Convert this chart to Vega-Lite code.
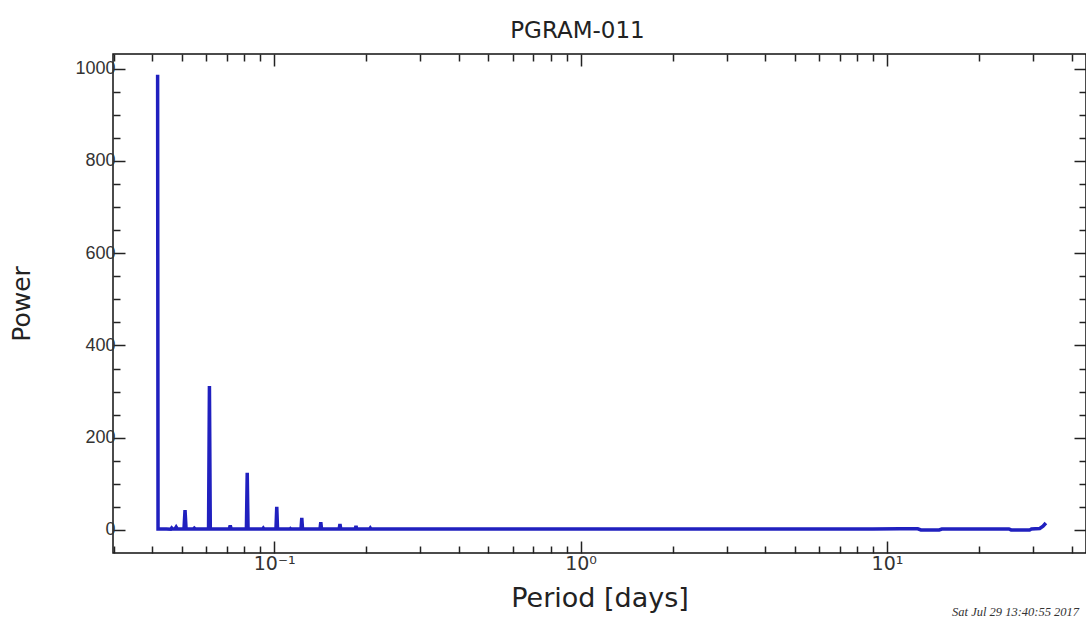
{
  "$schema": "https://vega.github.io/schema/vega-lite/v6.json",
  "autosize": {"type": "none"},
  "padding": {"left": 113, "top": 54, "right": 0, "bottom": 67},
  "width": 973,
  "height": 499,
  "background": "white",
  "title": {"text": "PGRAM-011", "font": "DejaVu Sans", "fontSize": 23, "fontWeight": "normal", "color": "#222", "dx": -22, "offset": 10, "anchor": "middle"},
  "config": {
    "view": {"stroke": "#111", "strokeWidth": 1.5},
    "axis": {"domain": false, "grid": false, "tickColor": "#222", "tickWidth": 1.5}
  },
  "datasets": {
    "pgram": [
      {"period": 0.04167, "power": 987},
      {"period": 0.0418, "power": 2},
      {"period": 0.0445, "power": 2},
      {"period": 0.046, "power": 1.5},
      {"period": 0.0463, "power": 4},
      {"period": 0.0466, "power": 2},
      {"period": 0.0475, "power": 2},
      {"period": 0.0479, "power": 6},
      {"period": 0.0483, "power": 2},
      {"period": 0.0508, "power": 2},
      {"period": 0.0512, "power": 43},
      {"period": 0.0516, "power": 2},
      {"period": 0.0545, "power": 2},
      {"period": 0.0549, "power": 4},
      {"period": 0.0553, "power": 2},
      {"period": 0.0611, "power": 2},
      {"period": 0.0615, "power": 312},
      {"period": 0.0619, "power": 2},
      {"period": 0.0714, "power": 2},
      {"period": 0.0719, "power": 10},
      {"period": 0.0724, "power": 2},
      {"period": 0.0812, "power": 2},
      {"period": 0.0817, "power": 124},
      {"period": 0.0822, "power": 2},
      {"period": 0.0917, "power": 2},
      {"period": 0.0922, "power": 4},
      {"period": 0.0927, "power": 2},
      {"period": 0.1014, "power": 2},
      {"period": 0.102, "power": 50},
      {"period": 0.1026, "power": 2},
      {"period": 0.1125, "power": 2},
      {"period": 0.113, "power": 3},
      {"period": 0.1135, "power": 2},
      {"period": 0.1224, "power": 2},
      {"period": 0.1231, "power": 26},
      {"period": 0.1238, "power": 2},
      {"period": 0.1412, "power": 2},
      {"period": 0.142, "power": 17},
      {"period": 0.1428, "power": 2},
      {"period": 0.163, "power": 2},
      {"period": 0.164, "power": 13},
      {"period": 0.165, "power": 2},
      {"period": 0.184, "power": 2},
      {"period": 0.185, "power": 9},
      {"period": 0.186, "power": 2},
      {"period": 0.205, "power": 2},
      {"period": 0.206, "power": 4},
      {"period": 0.207, "power": 2},
      {"period": 0.3, "power": 2},
      {"period": 0.5, "power": 2},
      {"period": 1, "power": 2},
      {"period": 2, "power": 2},
      {"period": 5, "power": 2},
      {"period": 9, "power": 2},
      {"period": 11, "power": 2.5},
      {"period": 12.6, "power": 2.5},
      {"period": 12.9, "power": 0},
      {"period": 14.8, "power": 0},
      {"period": 15.1, "power": 2},
      {"period": 20, "power": 2},
      {"period": 25, "power": 2},
      {"period": 25.4, "power": 0},
      {"period": 29.2, "power": 0},
      {"period": 29.6, "power": 2},
      {"period": 31.5, "power": 3},
      {"period": 32.3, "power": 8},
      {"period": 33, "power": 15}
    ],
    "stamp": [
      {"period": 16.3, "power": -179, "label": "Sat Jul 29 13:40:55 2017"}
    ]
  },
  "layer": [
    {
      "data": {"name": "pgram"},
      "mark": {"type": "line", "color": "#2020bf", "strokeWidth": 3.5, "clip": true},
      "encoding": {
        "x": {
          "field": "period", "type": "quantitative",
          "scale": {"type": "log", "domain": [0.0298, 44.6], "nice": false},
          "axis": {
            "orient": "bottom",
            "values": [0.03, 0.04, 0.05, 0.06, 0.07, 0.08, 0.09, 0.1, 0.2, 0.3, 0.4, 0.5, 0.6, 0.7, 0.8, 0.9, 1, 2, 3, 4, 5, 6, 7, 8, 9, 10, 20, 30, 40],
            "labelExpr": "datum.value == 0.1 ? '10⁻¹' : datum.value == 1 ? '10⁰' : datum.value == 10 ? '10¹' : ''",
            "tickSize": {"condition": {"test": "datum.value == 0.1 || datum.value == 1 || datum.value == 10", "value": -12}, "value": -7},
            "labelFont": "DejaVu Sans", "labelFontSize": 19, "labelColor": "#333", "labelPadding": 13,
            "labelFlush": false, "labelOverlap": false,
            "title": "Period [days]", "titleFont": "DejaVu Sans", "titleFontSize": 27, "titleFontWeight": "normal", "titleColor": "#222", "titlePadding": 7
          }
        },
        "y": {
          "field": "power", "type": "quantitative",
          "scale": {"domain": [-50, 1032], "nice": false, "zero": false},
          "axis": {
            "orient": "left",
            "values": [0, 50, 100, 150, 200, 250, 300, 350, 400, 450, 500, 550, 600, 650, 700, 750, 800, 850, 900, 950, 1000],
            "labelExpr": "datum.value % 200 == 0 ? datum.value : ''",
            "tickSize": {"condition": {"test": "datum.value % 200 == 0", "value": -12}, "value": -7},
            "labelFont": "Liberation Sans", "labelFontSize": 18, "labelColor": "#333", "labelPadding": 10,
            "labelOverlap": false,
            "title": "Power", "titleFont": "DejaVu Sans", "titleFontSize": 25, "titleFontWeight": "normal", "titleColor": "#222", "titlePadding": 40
          }
        }
      }
    },
    {
      "data": {"name": "stamp"},
      "mark": {"type": "text", "align": "left", "baseline": "middle", "font": "Liberation Serif", "fontStyle": "italic", "fontSize": 12.5, "color": "#333", "clip": false},
      "encoding": {
        "x": {
          "field": "period", "type": "quantitative",
          "axis": {
            "orient": "top",
            "values": [0.03, 0.04, 0.05, 0.06, 0.07, 0.08, 0.09, 0.1, 0.2, 0.3, 0.4, 0.5, 0.6, 0.7, 0.8, 0.9, 1, 2, 3, 4, 5, 6, 7, 8, 9, 10, 20, 30, 40],
            "labels": false,
            "tickSize": {"condition": {"test": "datum.value == 0.1 || datum.value == 1 || datum.value == 10", "value": -12}, "value": -7},
            "title": null
          }
        },
        "y": {
          "field": "power", "type": "quantitative",
          "axis": {
            "orient": "right",
            "values": [0, 50, 100, 150, 200, 250, 300, 350, 400, 450, 500, 550, 600, 650, 700, 750, 800, 850, 900, 950, 1000],
            "labels": false,
            "tickSize": {"condition": {"test": "datum.value % 200 == 0", "value": -12}, "value": -7},
            "title": null
          }
        },
        "text": {"field": "label"}
      }
    }
  ],
  "resolve": {"axis": {"x": "independent", "y": "independent"}}
}
